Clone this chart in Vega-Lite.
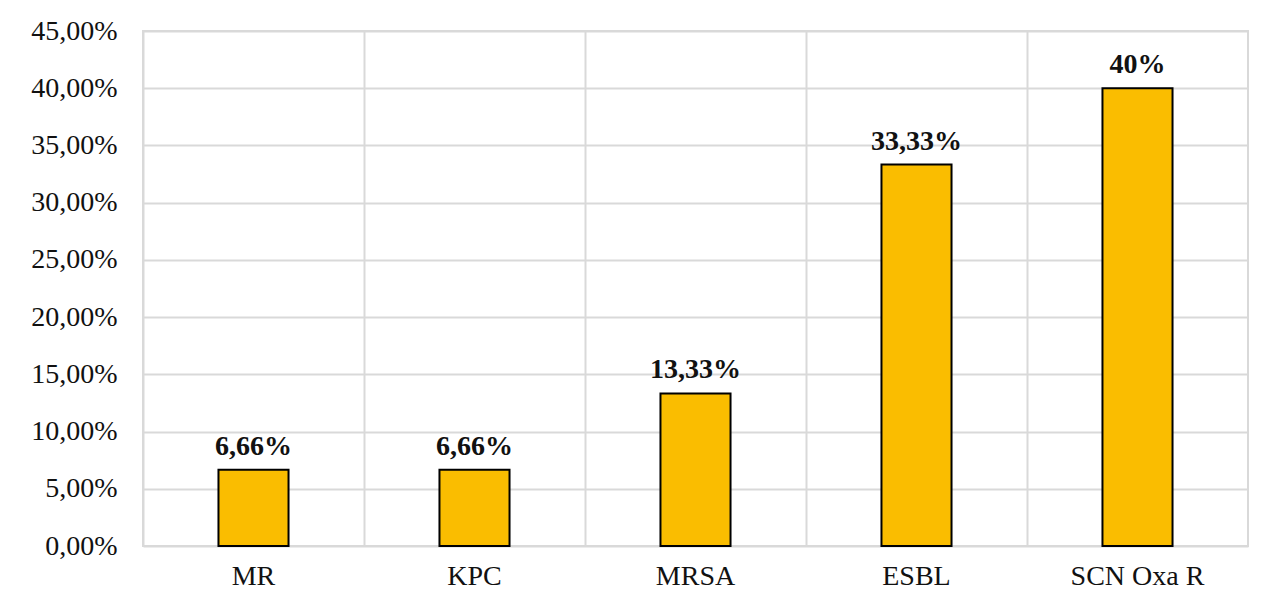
{
  "$schema": "https://vega.github.io/schema/vega-lite/v6.json",
  "width": 1105,
  "height": 515,
  "autosize": {"type": "none"},
  "padding": {"left": 143, "top": 31, "right": 26, "bottom": 55},
  "background": "white",
  "config": {
    "view": {"stroke": "#d9d9d9", "strokeWidth": 2},
    "font": "Liberation Serif"
  },
  "data": {
    "values": [
      {"category": "MR", "value": 0.0666, "label": "6,66%"},
      {"category": "KPC", "value": 0.0666, "label": "6,66%"},
      {"category": "MRSA", "value": 0.1333, "label": "13,33%"},
      {"category": "ESBL", "value": 0.3333, "label": "33,33%"},
      {"category": "SCN Oxa R", "value": 0.40, "label": "40%"}
    ]
  },
  "encoding": {
    "x": {
      "field": "category",
      "type": "nominal",
      "sort": null,
      "scale": {"paddingInner": 0, "paddingOuter": 0},
      "axis": {
        "title": null,
        "labelAngle": 0,
        "labelFont": "Liberation Serif",
        "labelFontSize": 28,
        "labelColor": "#111111",
        "labelPadding": 16,
        "domain": false,
        "ticks": false,
        "grid": true,
        "bandPosition": 0,
        "gridColor": "#d9d9d9",
        "gridWidth": 2
      }
    },
    "y": {
      "field": "value",
      "type": "quantitative",
      "scale": {"domain": [0, 0.45], "nice": false},
      "axis": {
        "title": null,
        "values": [0, 0.05, 0.1, 0.15, 0.2, 0.25, 0.3, 0.35, 0.4, 0.45],
        "labelExpr": "replace(format(datum.value, '.2%'), '.', ',')",
        "labelFont": "Liberation Serif",
        "labelFontSize": 28,
        "labelColor": "#111111",
        "labelPadding": 26,
        "domain": false,
        "ticks": false,
        "grid": true,
        "gridColor": "#d9d9d9",
        "gridWidth": 2
      }
    }
  },
  "layer": [
    {
      "mark": {"type": "bar", "width": {"band": 0.317}, "fill": "#FABD00", "stroke": "#000000", "strokeWidth": 2}
    },
    {
      "mark": {"type": "text", "baseline": "alphabetic", "dy": -15, "font": "Liberation Serif", "fontSize": 28, "fontWeight": "bold", "color": "#111111"},
      "encoding": {"text": {"field": "label"}}
    }
  ]
}
